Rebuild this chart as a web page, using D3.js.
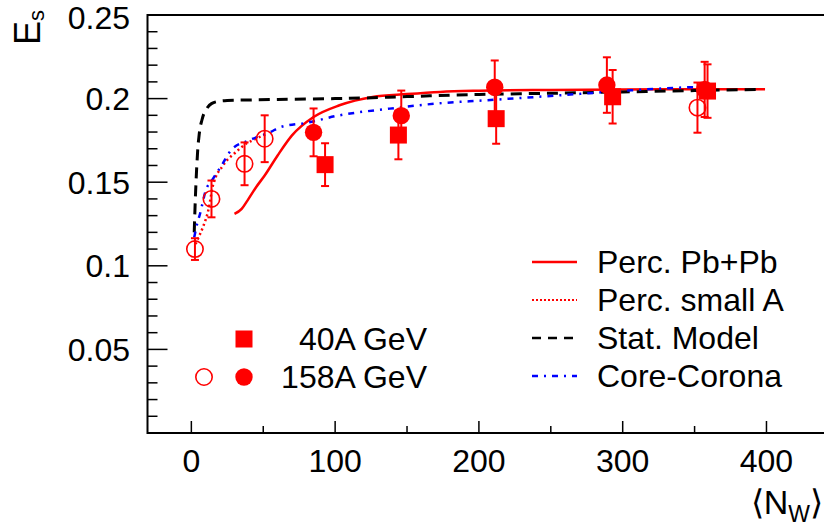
<!DOCTYPE html>
<html><head><meta charset="utf-8">
<script src="https://cdn.jsdelivr.net/npm/d3@7"></script>
<style>body{margin:0;background:#fff}svg{display:block}text{font-family:"Liberation Sans",Arial,sans-serif;fill:#000}</style>
</head><body><svg id="c" width="824" height="529"></svg>
<script>
// ---- data ----
const xTicks = [0,100,200,300,400];
const yTicks = [0.05,0.1,0.15,0.2,0.25];
const yTickLabels = ["0.05","0.1","0.15","0.2","0.25"];
// 40A GeV (filled squares)  [N_W, Es, err]
const sq40 = [[93,0.1605,0.0128],[144,0.1782,0.0145],[212,0.188,0.015],[293,0.2011,0.016],[359,0.2045,0.016]];
// 158A GeV Pb+Pb (filled circles)
const circ158 = [[85,0.1798,0.0143],[146,0.1898,0.015],[211,0.2068,0.016],[289,0.2081,0.0166],[357,0.2055,0.0165]];
// 158A GeV small systems (open circles)
const open158 = [[2.5,0.110,0.0065],[14,0.140,0.011],[37,0.161,0.0128],[51,0.176,0.014],[352,0.1946,0.015]];
// model curves
const percPbPb = [[30,0.131],[35,0.134],[39,0.139],[45,0.147],[51,0.154],[60,0.166],[70,0.178],[85,0.189],[103,0.196],[126,0.201],[150,0.2027],[173,0.204],[200,0.2047],[250,0.2052],[300,0.2055],[350,0.2056],[399,0.2056]];
const percSmallA = [[3,0.113],[5,0.117],[8,0.123],[12,0.134],[15,0.148],[22,0.160],[31,0.168],[38,0.173],[45,0.176],[52,0.179]];
const statModel = [[2,0.120],[3,0.145],[4,0.163],[5,0.175],[7,0.186],[10,0.193],[14,0.197],[20,0.1985],[30,0.199],[60,0.1995],[100,0.200],[150,0.2012],[200,0.2025],[250,0.2032],[300,0.204],[350,0.2048],[395,0.2055]];
const coreCorona = [[2,0.117],[4,0.125],[6,0.131],[10,0.145],[15,0.152],[21,0.160],[28,0.1695],[40,0.175],[55,0.180],[62,0.183],[80,0.1855],[103,0.190],[138,0.194],[170,0.197],[205,0.199],[252,0.2017],[298,0.2045],[344,0.2067],[355,0.207]];
const legendLines = ["Perc. Pb+Pb","Perc. small A","Stat. Model","Core-Corona"];
const legendMarkers = ["40A GeV","158A GeV"];

// ---- layout ----
const svg = d3.select("#c");
const L=147.5, R=826, T=15, B=433;
const FS=32;
const x = d3.scaleLinear().domain([-30.5,441.4]).range([L,R]);
const y = d3.scaleLinear().domain([0,0.25]).range([B,T]);
const RED="#ff0000";

// frame
svg.append("path").attr("d",`M${R},${T}H${L}V${B}H${R}`).attr("fill","none").attr("stroke","#000").attr("stroke-width",2);

// y ticks
const yMinor = d3.range(1,25).map(i=>i*0.01);
svg.selectAll(".ymin").data(yMinor).enter().append("line")
  .attr("x1",L).attr("x2",d=>L+(Math.abs(d*20-Math.round(d*20))<1e-6?20:10))
  .attr("y1",d=>y(d)).attr("y2",d=>y(d)).attr("stroke","#000").attr("stroke-width",1.5);
svg.selectAll(".ylab").data(yTicks).enter().append("text")
  .attr("x",130).attr("y",d=>Math.max(y(d),17.5)).attr("dy","0.36em").attr("text-anchor","end")
  .attr("font-size",FS).text((d,i)=>yTickLabels[i]);

// x ticks
svg.selectAll(".xmin").data(d3.range(0,450,50)).enter().append("line")
  .attr("x1",d=>x(d)).attr("x2",d=>x(d)).attr("y1",B)
  .attr("y2",d=>B-(d%100===0?12:7)).attr("stroke","#000").attr("stroke-width",1.5);
svg.selectAll(".xlab").data(xTicks).enter().append("text")
  .attr("x",d=>x(d)).attr("y",472).attr("text-anchor","middle")
  .attr("font-size",FS).text(d=>d);

// axis titles
const xt = svg.append("text").attr("x",823).attr("y",514).attr("text-anchor","end").attr("font-size",34);
xt.append("tspan").text("\u27E8N");
xt.append("tspan").attr("font-size",23).attr("dy",8).text("W");
xt.append("tspan").attr("dy",-8).text("\u27E9");
const yt = svg.append("text").attr("transform","translate(40,45) rotate(-90)").attr("font-size",36);
yt.append("tspan").text("E");
yt.append("tspan").attr("font-size",22).attr("dy",4).text("s");

// curves
const line = d3.line().x(d=>x(d[0])).y(d=>y(d[1])).curve(d3.curveMonotoneX);
const g = svg.append("g");
const styles = [
  {data:percPbPb, color:RED, w:2.5, dash:null},
  {data:percSmallA, color:RED, w:2.5, dash:"2,3"},
  {data:statModel, color:"#000", w:3, dash:"11,7"},
  {data:coreCorona, color:"#0000ff", w:2.5, dash:"6,6,2,6"}
];
const lineY = d3.line().x(d=>x(d[0])).y(d=>y(d[1])).curve(d3.curveMonotoneY);
styles.forEach((s,i)=>{
  g.append("path").datum(s.data).attr("d", (i==2? lineY : line))
   .attr("fill","none").attr("stroke",s.color).attr("stroke-width",s.w)
   .attr("stroke-dasharray",s.dash);
});

// error bars + markers
function errs(data){
  data.forEach(d=>{
    const cx=x(d[0]), y1=y(d[1]+d[2]), y2=y(d[1]-d[2]);
    g.append("line").attr("x1",cx).attr("x2",cx).attr("y1",y1).attr("y2",y2).attr("stroke",RED).attr("stroke-width",2);
    [y1,y2].forEach(yy=>g.append("line").attr("x1",cx-4).attr("x2",cx+4).attr("y1",yy).attr("y2",yy).attr("stroke",RED).attr("stroke-width",2));
  });
}
errs(sq40); errs(circ158); errs(open158);
g.selectAll(".sq").data(sq40).enter().append("rect")
  .attr("x",d=>x(d[0])-8.5).attr("y",d=>y(d[1])-8.5).attr("width",17).attr("height",17).attr("fill",RED);
g.selectAll(".fc").data(circ158).enter().append("circle")
  .attr("cx",d=>x(d[0])).attr("cy",d=>y(d[1])).attr("r",8.7).attr("fill",RED);
g.selectAll(".oc").data(open158).enter().append("circle")
  .attr("cx",d=>x(d[0])).attr("cy",d=>y(d[1])).attr("r",8.2).attr("fill","none").attr("stroke",RED).attr("stroke-width",1.6);

// legend (lines)
legendLines.forEach((t,i)=>{
  const yy = 262 + i*38;
  const s = styles[i];
  svg.append("line").attr("x1",532).attr("x2",577).attr("y1",yy).attr("y2",yy)
    .attr("stroke",s.color).attr("stroke-width",i==1?2:2.5).attr("stroke-dasharray",i==1?"2,2":(i==2?"9,7":s.dash));
  svg.append("text").attr("x",597).attr("y",yy+11).attr("font-size",FS).text(t);
});
// legend (markers)
svg.append("rect").attr("x",244-8.5).attr("y",339-8.5).attr("width",17).attr("height",17).attr("fill",RED);
svg.append("circle").attr("cx",244).attr("cy",377).attr("r",8.7).attr("fill",RED);
svg.append("circle").attr("cx",204).attr("cy",377).attr("r",8.2).attr("fill","none").attr("stroke",RED).attr("stroke-width",1.6);
legendMarkers.forEach((t,i)=>{
  svg.append("text").attr("x",427).attr("y",350+i*38).attr("text-anchor","end").attr("font-size",FS).text(t);
});
</script></body></html>
